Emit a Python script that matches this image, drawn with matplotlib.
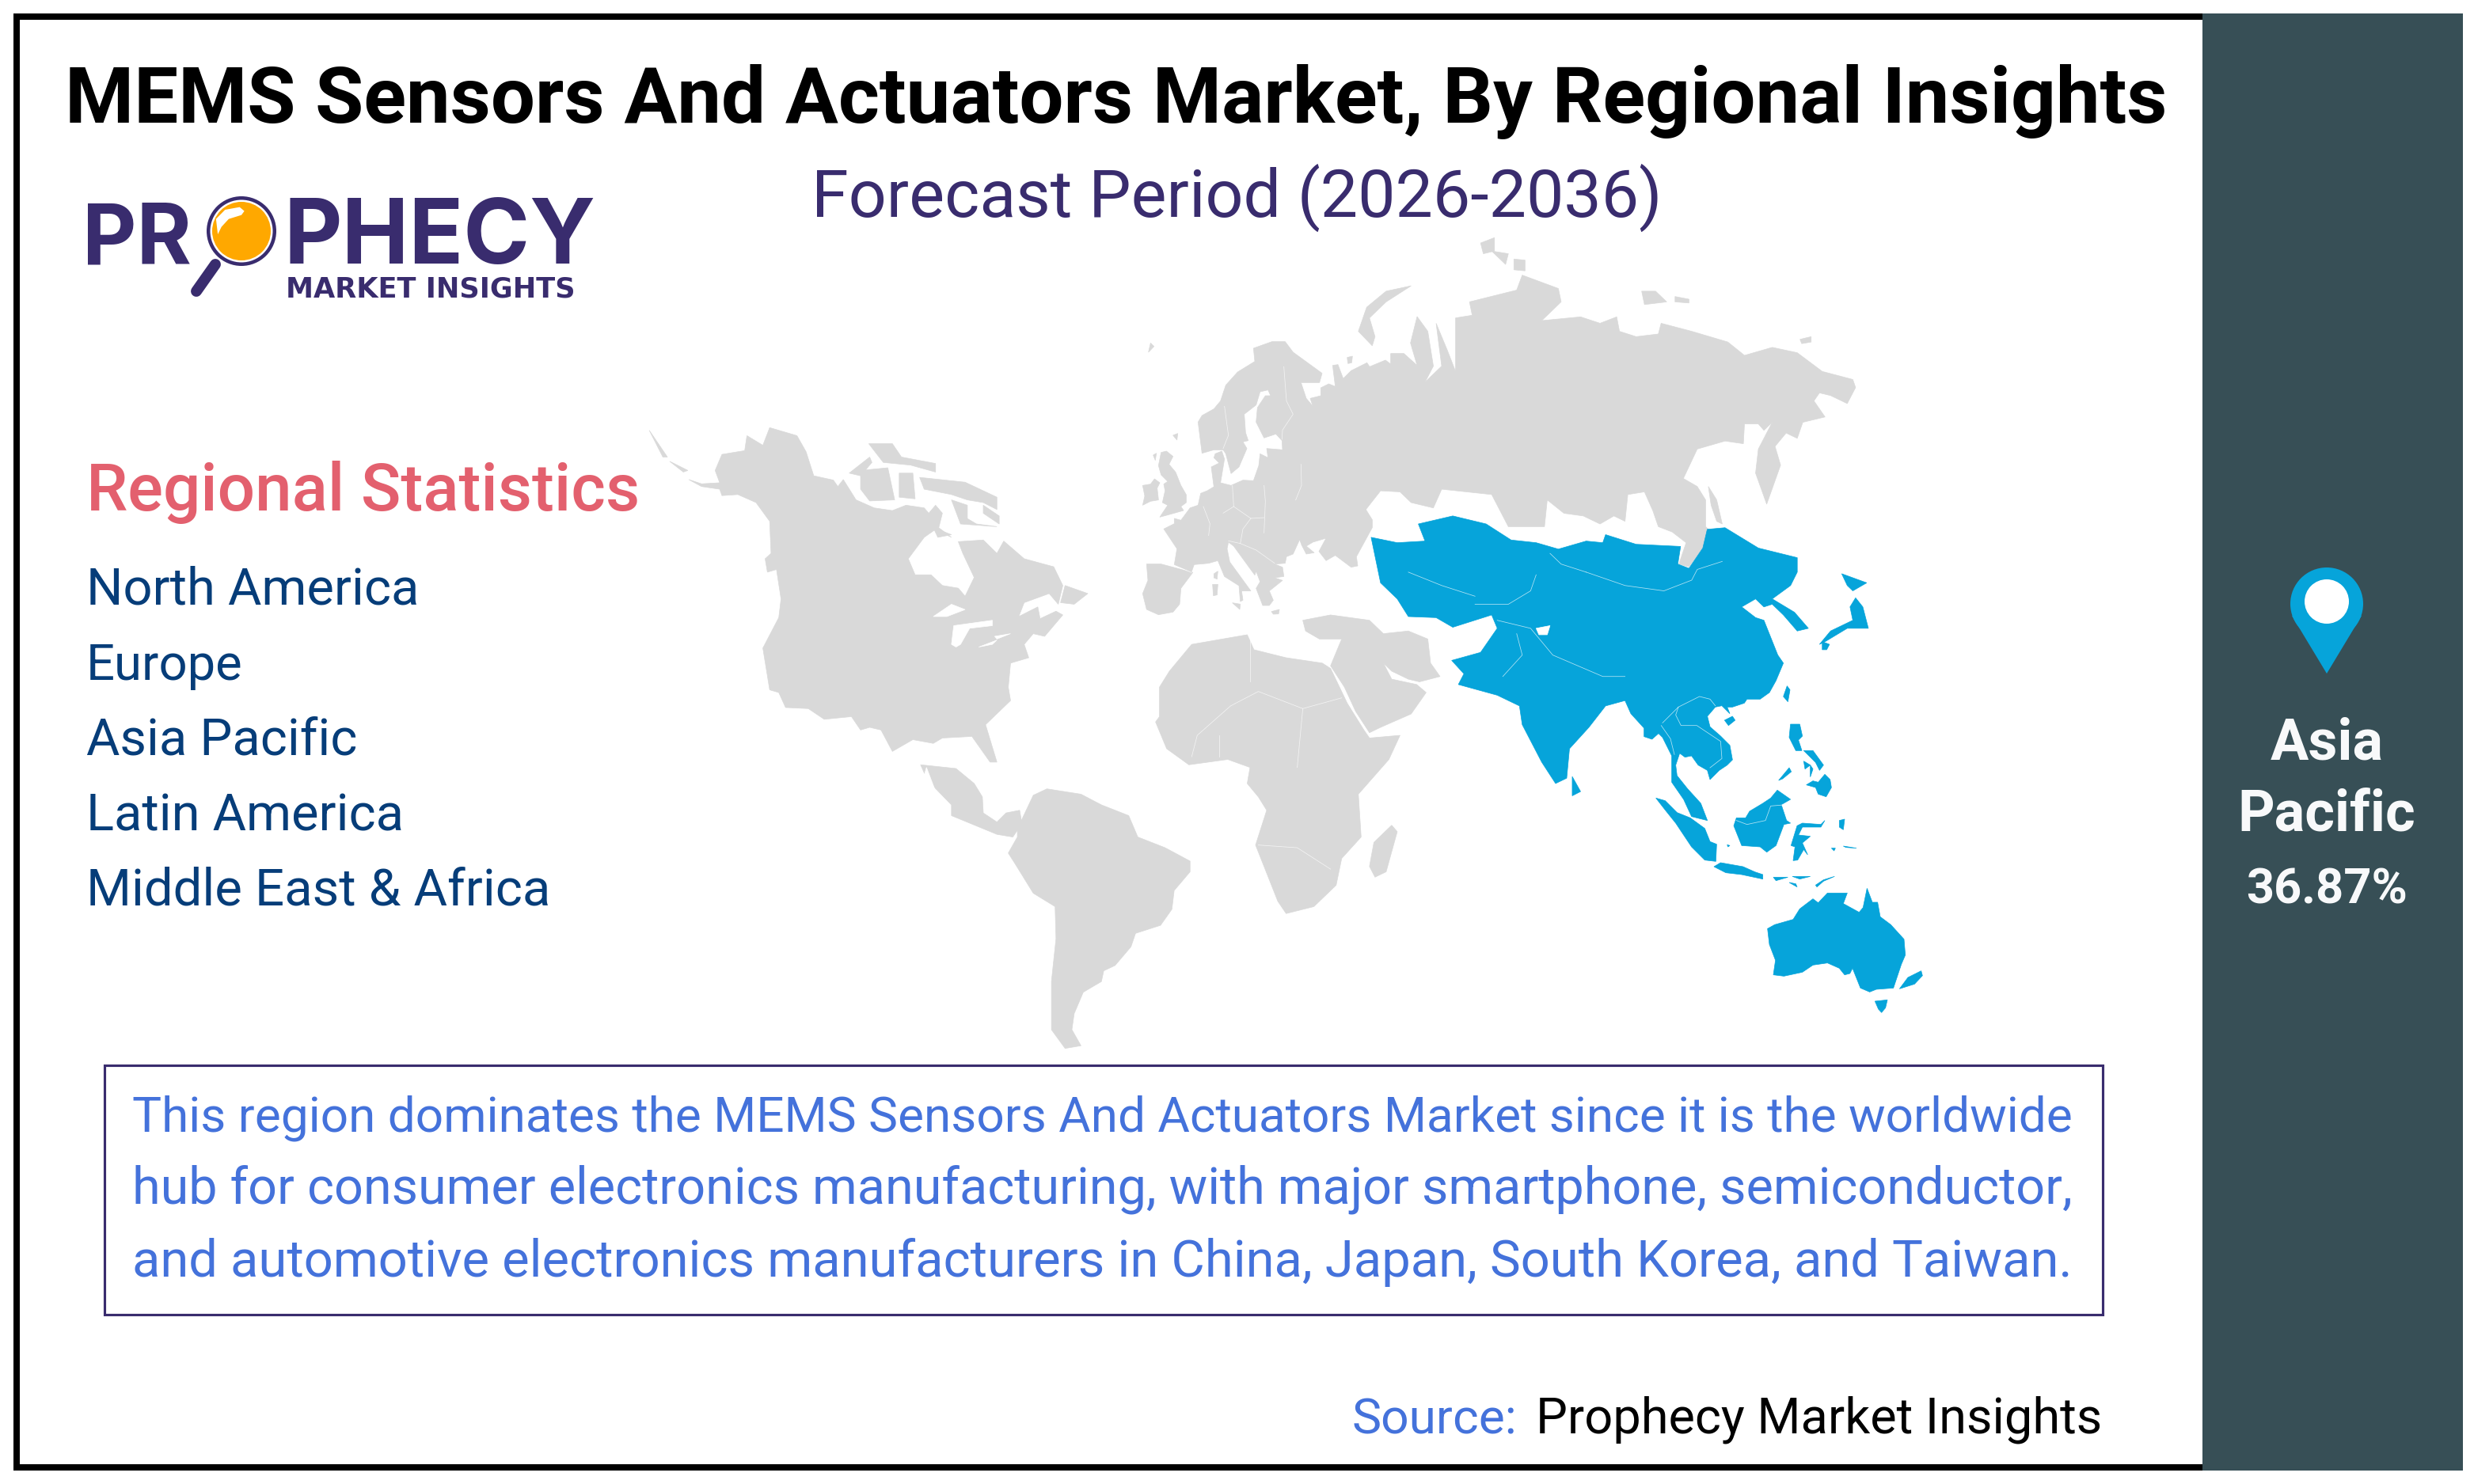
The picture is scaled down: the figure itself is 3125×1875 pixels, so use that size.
#!/usr/bin/env python3
import matplotlib
matplotlib.use('Agg')
import matplotlib.pyplot as plt
from matplotlib.patches import Rectangle, Circle, Polygon

NAVY = '#392C6E'
GRAY = '#D9D9D9'
BLUE = '#06A4DA'
PANEL = '#374F56'
TEXTBLUE = '#4472DB'

TITLE = 'MEMS Sensors And Actuators Market, By Regional Insights'
SUBTITLE = 'Forecast Period (2026-2036)'
STATS_HEAD = 'Regional Statistics'
REGIONS = ['North America', 'Europe', 'Asia Pacific', 'Latin America', 'Middle East & Africa']
BOX_LINES = [
    'This region dominates the MEMS Sensors And Actuators Market since it is the worldwide',
    'hub for consumer electronics manufacturing, with major smartphone, semiconductor,',
    'and automotive electronics manufacturers in China, Japan, South Korea, and Taiwan.',
]
TOP_REGION = ['Asia', 'Pacific']
TOP_SHARE = '36.87%'

americas_gray = [
    [(122,482),(150,490),(190,488),(180,465),(195,435),(245,428),(250,400),(285,418),(300,385),(360,400),(380,430),(397,475),(440,483),(450,495),(462,482),(490,520),(530,535),(570,540),(600,530),(640,535),(650,545),(665,530),(680,545),(672,572),(700,590),(665,575),(640,590),(605,630),(620,660),(655,660),(680,680),(715,685),(730,700),(750,665),(725,620),(715,598),(770,595),(800,620),(815,597),(860,630),(925,645),(945,680),(935,715),(915,695),(860,712),(848,738),(890,720),(895,742),(930,728),(945,735),(905,775),(880,770),(860,790),(870,815),(830,825),(825,870),(830,895),(775,940),(800,1010),(785,1010),(745,962),(680,965),(660,975),(615,968),(570,990),(545,950),(520,945),(500,950),(480,925),(420,930),(385,910),(335,908),(320,880),(300,875),(285,797),(320,740),(325,705),(315,650),(295,655),(290,630),(303,620),(300,560),(270,525),(230,510),(195,512),(190,500),(150,495)],
    [(950,680),(1000,695),(970,715),(940,712)],
    [(35,390),(75,440),(65,440)], [(80,448),(120,465),(110,468)],
    [(630,478),(730,487),(800,515),(800,538),(770,525),(735,520),(700,510),(640,500)],
    [(475,470),(520,440),(525,450),(500,475)],
    [(500,465),(560,460),(575,520),(520,522),(500,500)],
    [(585,470),(615,470),(620,518),(585,515)],
    [(518,415),(570,415),(590,440),(665,452),(665,468),(610,455),(550,450)],
    [(770,530),(805,550),(805,565),(770,545)],
    [(700,520),(735,530),(735,555),(755,565),(800,570),(720,565)],
    [(660,572),(700,585),(670,590)],
    [(632,1015),(710,1022),(750,1050),(768,1075),(770,1105),(800,1122),(820,1105),(850,1100),(855,1125),(835,1150),(800,1145),(700,1110),(700,1090),(660,1055),(640,1030)],
    [(845,1135),(880,1072),(910,1060),(985,1070),(1030,1090),(1090,1110),(1110,1150),(1170,1170),(1225,1195),(1225,1215),(1190,1250),(1185,1285),(1160,1315),(1105,1330),(1095,1355),(1060,1390),(1035,1400),(1030,1420),(990,1440),(970,1480),(965,1510),(985,1540),(950,1545),(920,1510),(920,1420),(930,1340),(928,1280),(880,1255),(840,1200),(825,1180),(845,1150)],
]
americas_lakes = [
    [(660,738),(700,715),(730,725),(690,738)],
    [(700,790),(705,755),(790,745),(790,755),(740,760),(720,790),(710,795)],
    [(795,775),(830,770),(800,780)], [(760,795),(800,782),(790,790)],
    [(645,1020),(672,1080),(660,1075),(640,1035)],
]

# Eurasia coast in three stretches: Europe north side, Siberia, Europe south side
europe_north = [(190,940),(200,880),(150,805),(190,785),(190,765),(215,772),(250,725),(280,715),(290,670),(315,660),(340,645),(330,570),(360,555),(340,535),(345,520),(370,510),(380,540),(365,630),(405,640),(450,620),(490,622),(510,565),(515,520),(545,535),(540,500),(600,505),(598,470),(575,445),(530,460),(500,400),(505,345),(535,300),(555,300),(545,278),(515,285),(500,335),(455,370),(460,440),(470,470),(450,475),(465,500),(435,570),(405,595),(385,520),(375,505),(340,505),(295,518),(280,400),(295,375),(340,350),(365,320),(385,260),(430,210),(495,170),(490,120),(560,95),(610,95),(640,135),(750,215),(740,250),(670,250),(690,310),(715,340),(705,310),(745,300),(745,270),(775,255),(800,265),(790,185),(810,182),(830,235),(860,205),(920,175),(930,190),(990,165),(1010,180),(1010,140),(1060,140),(1110,185),(1085,100),(1110,0)]
siberia = [(575,205),(585,270),(570,300),(600,270),(590,190),(610,240),(625,280),(625,180),(655,175),(650,150),(735,128),(745,100),(810,125),(815,150),(780,185),(850,178),(885,190),(915,178),(920,205),(950,215),(990,210),(995,190),(1050,205),(1115,225),(1145,250),(1195,235),(1240,245),(1285,280),(1340,295),(1345,310),(1330,340),(1300,325),(1280,320),(1270,335),(1290,365),(1250,375),(1240,405),(1220,395),(1200,420),(1210,455),(1185,528),(1165,470),(1170,425),(1195,375),(1180,390),(1170,378),(1145,378),(1143,415),(1110,410),(1060,425),(1035,480),(1060,495),(1075,520),(1075,570),(1080,575),(1070,610),(1045,645),(1027,640),(1040,600),(1015,580),(990,570),(980,540),(965,505),(935,510),(930,560),(910,550),(885,565),(855,550),(820,545),(790,520),(785,570),(720,570),(690,510),(600,500),(585,535),(545,525),(525,505),(490,503),(462,540)]
europe_south = [(915,730),(940,770),(940,800),(880,910),(885,945),(860,950),(800,905),(765,925),(738,890),(765,840),(715,855),(690,870),(720,895),(690,900),(672,865),(665,845),(640,900),(615,910),(610,935),(570,938),(600,950),(605,985),(570,990),(600,1000),(550,1040),(565,1075),(550,1095),(525,1095),(500,1030),(515,1005),(500,965),(495,980),(415,870),(395,855),(390,880),(400,930),(440,985),(480,1040),(445,1040),(450,1075),(440,1080),(435,1020),(380,985),(355,925),(320,935),(265,940),(255,968)]
europe_gray = [
    [(85,938),(140,938),(260,970),(215,1030),(210,1090),(185,1120),(130,1130),(85,1110),(70,1050),(90,1000)],
    [(140,515),(160,510),(185,530),(170,560),(195,590),(215,640),(235,675),(235,705),(215,720),(225,735),(190,745),(135,760),(165,715),(145,705),(155,660),(150,635),(165,625),(140,600),(130,565)],
    [(70,640),(100,635),(115,615),(135,630),(125,650),(130,695),(100,700),(70,715),(78,680)],
    [(100,100),(113,113),(92,135)], [(185,450),(203,443),(200,468)], [(110,525),(122,518),(118,545)],
    [(340,975),(355,965),(352,995),(340,990)], [(335,1015),(355,1015),(352,1055),(338,1058)],
    [(410,1085),(440,1090),(438,1110)], [(558,1118),(588,1110),(585,1127),(565,1128)],
    [(845,155),(865,150),(862,175),(848,178)],
]
europe_borders = [
    [(410,640),(415,720),(480,765),(530,762)], [(375,745),(415,720)],
    [(480,765),(450,805),(440,860),(395,850)], [(300,720),(325,785),(320,830)],
    [(530,640),(535,700),(530,820)], [(670,560),(672,640),(650,695)],
    [(380,340),(395,450),(375,500)], [(605,190),(615,320),(640,370),(600,430),(598,465)],
    [(440,860),(500,885),(570,935)], [(180,940),(255,970)],
]
asia_africa_gray = [
    [(1080,495),(1095,520),(1105,565),(1095,560),(1085,530)],
    [(545,120),(500,130),(465,160),(450,205),(475,232),(480,215),(470,180),(500,150)],
    [(670,40),(695,30),(695,55),(675,60)], [(690,55),(720,60),(715,80)], [(730,70),(750,72),(750,92),(730,90)],
    [(960,130),(985,130),(1005,150),(965,155)], [(1020,140),(1045,145),(1045,152),(1020,150)],
    [(1245,220),(1265,215),(1265,225),(1248,228)],
    [(350,745),(400,735),(470,745),(495,770),(540,765),(575,780),(580,825),(597,850),(560,860),(540,855),(510,840),(495,825),(510,855),(555,865),(572,880),(545,920),(490,945),(470,955),(445,915),(425,870),(400,830),(420,780),(380,780),(355,765)],
    [(92,870),(110,840),(150,790),(250,772),(262,800),(320,815),(385,825),(400,835),(430,900),(460,950),(470,965),(525,960),(505,1005),(450,1070),(455,1150),(420,1190),(410,1240),(370,1280),(320,1293),(305,1270),(265,1165),(285,1100),(270,1075),(250,1050),(255,1020),(215,1005),(145,1015),(105,985),(85,935),(92,925)],
    [(510,1128),(520,1140),(500,1215),(480,1225),(470,1205),(478,1160)],
]
africa_borders = [
    [(150,1000),(160,960),(220,905),(270,878),(350,910),(420,890)],
    [(255,780),(255,860)], [(200,960),(200,1000)], [(350,910),(340,1020)],
    [(270,1165),(340,1170),(400,1210)],
]

# Asia Pacific
apac_north = [(473,590),(520,600),(570,597),(558,565),(620,550),(680,565),(725,595),(770,600),(810,612),(860,597),(890,600),(895,585),(950,603),(1030,607),(1025,640),(1045,648),(1070,610),(1078,575),(1110,572),(1170,610),(1240,628),(1240,655),(1228,680),(1195,705),(1235,730),(1260,760),(1240,765),(1215,735),(1195,715),(1180,720),(1165,705),(1140,720),(1165,740),(1180,745),(1205,810),(1215,825)]
apac_indochina = [(550,0),(525,45),(490,70),(440,70),(430,85),(385,100),(365,100),(375,125),(345,95),(320,100),(290,135),(300,175),(340,210),(375,245),(385,300),(365,320),(335,340),(300,375),(290,340),(255,320),(230,285),(205,290),(185,275),(170,320),(175,360),(215,410),(265,465),(290,530),(230,515),(200,450),(155,385),(155,340),(155,285),(120,215),(105,200),(80,222),(50,212),(50,180),(0,125)]
apac_south = [(930,895),(895,905),(865,945),(830,985),(825,1040),(805,1050),(780,1010),(745,940),(740,905),(700,885),(630,865),(640,845),(618,820),(670,805),(700,760),(690,735),(620,758),(590,740),(540,738),(520,705),(490,675)]
apac_islands_a = [
    [(835,1037),(850,1065),(835,1073)],
    [(1345,703),(1358,720),(1368,760),(1330,760),(1290,785),(1280,790),(1300,765),(1340,745),(1335,720)],
    [(1320,658),(1365,675),(1340,690),(1330,680)],
    [(1285,785),(1298,790),(1293,800),(1285,800)],
]
apac_islands_b = [
    [(355,150),(385,135),(395,150),(370,170)],
    [(592,20),(603,35),(595,80),(578,60)],
    [(605,165),(640,165),(650,210),(635,225),(648,265),(625,265),(600,215)],
    [(655,265),(690,265),(730,320),(715,340),(700,310)], [(655,305),(680,320),(660,335)], [(680,320),(690,335),(680,365)],
    [(665,395),(690,380),(710,385),(735,355),(755,375),(760,405),(740,440),(710,430),(700,405)],
    [(560,378),(600,330),(608,345),(575,372)],
    [(555,415),(605,450),(570,470),(590,530),(605,540),(580,545),(550,625),(515,650),(490,630),(420,625),(390,550),(400,520),(435,520),(450,495),(500,465),(530,445)],
    [(95,445),(130,455),(175,500),(225,520),(280,560),(300,610),(325,620),(322,685),(280,680),(230,630),(170,540),(130,490)],
    [(315,705),(340,690),(425,705),(470,725),(500,735),(500,752),(420,735),(360,728)],
    [(540,745),(595,745),(550,758)], [(612,742),(680,742),(640,752)],
    [(700,775),(730,755),(772,742),(730,760),(705,782)], [(600,765),(625,770),(630,782)],
    [(630,550),(650,540),(720,545),(735,530),(720,555),(650,555),(635,585),(680,590),(650,615),(670,660),(655,640),(632,680),(615,682),(622,630),(607,625)],
    [(790,530),(810,525),(805,565),(790,555)], [(805,627),(855,635),(815,632)],
    [(760,635),(775,635),(770,645)], [(365,622),(375,625),(368,630)],
    [(518,940),(545,925),(615,905),(640,865),(690,827),(710,842),(745,805),(820,805),(805,845),(865,878),(880,860),(895,787),(915,840),(935,840),(945,895),(985,925),(1035,980),(1040,1040),(1025,1075),(995,1165),(930,1170),(905,1180),(870,1165),(840,1090),(830,1110),(810,1115),(790,1090),(745,1070),(690,1078),(650,1105),(580,1120),(540,1115),(548,1060),(525,1000)],
    [(925,1215),(972,1210),(965,1240),(950,1258),(938,1245)],
    [(1018,1168),(1050,1125),(1100,1100),(1105,1118),(1075,1150)],
]
apac_gaps = [[(770,760),(795,755),(790,772),(775,772)]]
apac_borders_a = [
    [(770,660),(760,690),(720,715),(660,715)],
    [(700,745),(760,760),(800,810),(890,850),(930,850)],
    [(860,655),(930,680),(1000,690),(1050,670),(1060,650),(1105,635)],
    [(795,620),(815,640),(860,655)],
    [(540,655),(600,680),(660,700)],
    [(735,770),(745,810),(710,850)],
]
apac_borders_b = [
    [(115,170),(150,220),(165,280)],
    [(180,100),(170,130),(190,170),(250,170),(340,230),(345,295),(300,330)],
    [(120,160),(180,100),(260,60),(300,70),(320,95)],
    [(400,530),(440,545),(510,530),(530,475),(590,470)],
]

W, H = 3125, 1875
fig = plt.figure(figsize=(12.5, 7.5), dpi=250)
ax = fig.add_axes([0, 0, 1, 1])
ax.set_xlim(0, W)
ax.set_ylim(H, 0)
ax.axis('off')
renderer = fig.canvas.get_renderer()


def crop1(pts):
    return [(800 + x / 1.742, 280 + y / 1.479) for x, y in pts]


def crop2(pts):
    return [(1400 + x / 1.425, 280 + y / 1.479) for x, y in pts]


def crop3(pts):
    return [(1420 + x / 3, 400 + y / 3) for x, y in pts]


def crop4(pts):
    return [(2060 + x / 3, 860 + y / 3) for x, y in pts]


def fit_text(x, y, s, width, **kw):
    # scale the font so the string spans the width seen in the reference
    t = ax.text(x, y, s, fontsize=20, va='baseline', **kw)
    t.set_fontsize(20 * width / t.get_window_extent(renderer).width)
    return t


def shapes(polys, conv, color, z=2):
    for p in polys:
        ax.add_patch(Polygon(conv(p), closed=True, fc=color, ec=color, lw=0.2, zorder=z))


def lines(polys, conv, lw=0.22):
    for p in polys:
        xs, ys = zip(*conv(p))
        ax.plot(xs, ys, color='white', lw=lw, zorder=4, alpha=0.7)


# frame, then the right panel over it
ax.add_patch(Rectangle((21, 21), 2780, 1833, fc='none', ec='black', lw=2.3, zorder=1))
ax.add_patch(Rectangle((2782, 17), 329, 1841, fc=PANEL, ec='none', zorder=2))

fit_text(82, 155, TITLE, 2654, family='Roboto', weight='bold', color='black')
fit_text(1025, 274, SUBTITLE, 1076, family='Roboto', color=NAVY)

# logo
fit_text(104, 333, 'PR', 138, family='Inter', weight='bold', color=NAVY)
fit_text(359, 333, 'PHECY', 394, family='Inter', weight='bold', color=NAVY)
fit_text(361, 375, 'MARKET INSIGHTS', 366, family='DejaVu Sans', weight='bold', color=NAVY)
ax.add_patch(Circle((305, 292), 44, fc=NAVY, ec='none', zorder=3))
ax.add_patch(Circle((305, 292), 39.5, fc='white', ec='none', zorder=3))
ax.add_patch(Circle((305, 292), 37, fc='#FFA800', ec='none', zorder=3))
highlight = [(425,228),(420,170),(445,135),(485,125),(498,140),(490,155),(455,170),(435,200)]
ax.add_patch(Polygon([(80 + x / 2.178, 220 + y / 3) for x, y in highlight], closed=True, fc='white', ec='none', zorder=4))
ax.plot([248, 272], [368, 334], color=NAVY, lw=4, solid_capstyle='round', zorder=3)

# left list
fit_text(109, 645, STATS_HEAD, 700, family='Roboto', weight='medium', color='#E3606E')
list_w = [421, 198, 342, 402, 587]
for i, name in enumerate(REGIONS):
    fit_text(109, 764 + i * 95, name, list_w[i], family='Roboto', color='#063D79')

# map
shapes(americas_gray, crop1, GRAY)
shapes(americas_lakes, crop1, 'white', 3)
eurasia = crop3(europe_north) + crop2(siberia) + crop3(europe_south)
ax.add_patch(Polygon(eurasia, closed=True, fc=GRAY, ec=GRAY, lw=0.2, zorder=2))
shapes(europe_gray, crop3, GRAY)
shapes(asia_africa_gray, crop2, GRAY)
lines(europe_borders, crop3)
lines(africa_borders, crop2)
apac_main = crop2(apac_north) + crop4(apac_indochina) + crop2(apac_south)
ax.add_patch(Polygon(apac_main, closed=True, fc=BLUE, ec=BLUE, lw=0.2, zorder=2))
shapes(apac_islands_a, crop2, BLUE)
shapes(apac_islands_b, crop4, BLUE)
shapes(apac_gaps, crop2, 'white', 3)
lines(apac_borders_a, crop2)
lines(apac_borders_b, crop4)

# text box
ax.add_patch(Rectangle((132, 1346), 2524, 315, fc='none', ec=NAVY, lw=0.9, zorder=3))
for i, line in enumerate(BOX_LINES):
    fit_text(167, 1429 + i * 92, line, 2453, family='Roboto', color=TEXTBLUE)

fit_text(1707, 1811, 'Source:', 209, family='Roboto', color=TEXTBLUE)
fit_text(1940, 1811, 'Prophecy Market Insights', 716, family='Roboto', color='black')

# pin and share
ax.add_patch(Circle((2939, 763), 46, fc=BLUE, ec='none', zorder=3))
ax.add_patch(Polygon([(2895, 778), (2983, 778), (2939, 851)], closed=True, fc=BLUE, ec='none', zorder=3))
ax.add_patch(Circle((2939, 760), 28, fc='white', ec='none', zorder=4))
fit_text(2939, 960, TOP_REGION[0], 143, family='Roboto', weight='bold', color='#F8F9FA', ha='center')
fit_text(2939, 1050, TOP_REGION[1], 225, family='Roboto', weight='bold', color='#F8F9FA', ha='center')
fit_text(2939, 1141, TOP_SHARE, 204, family='Roboto', weight='bold', color='#F8F9FA', ha='center')

fig.savefig('out.png', dpi=250, facecolor='white')
